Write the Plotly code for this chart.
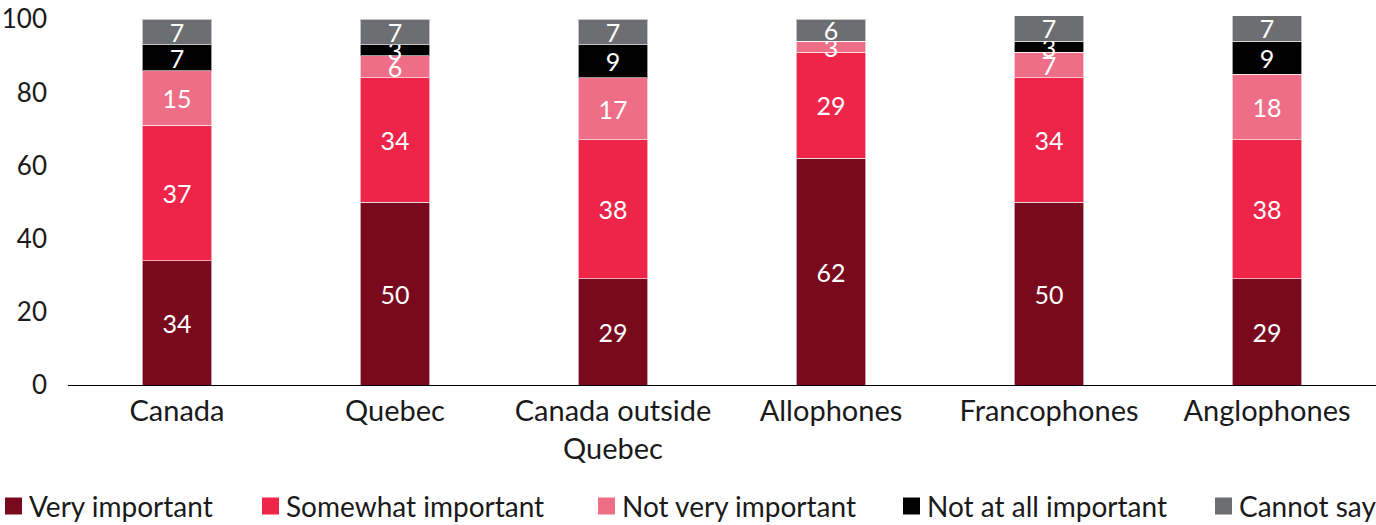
import plotly.graph_objects as go

categories = ["Canada", "Quebec", "Canada outside<br>Quebec", "Allophones", "Francophones", "Anglophones"]

very_important = [34, 50, 29, 62, 50, 29]
somewhat_important = [37, 34, 38, 29, 34, 38]
not_very_important = [15, 6, 17, 3, 7, 18]
not_at_all_important = [7, 3, 9, 0, 3, 9]
cannot_say = [7, 7, 7, 6, 7, 7]

series_names = ["Very important", "Somewhat important", "Not very important",
                "Not at all important", "Cannot say"]
series_values = [very_important, somewhat_important, not_very_important,
                 not_at_all_important, cannot_say]
series_colors = ["#790A1E", "#EE2549", "#EF6E87", "#000000", "#6D6E71"]

FONT = "Lato"
W, H = 1376, 525
M_L, M_R, M_T, M_B = 68, 0, 12, 140

fig = go.Figure()
for name, vals, color in zip(series_names, series_values, series_colors):
    fig.add_trace(go.Bar(
        x=categories,
        y=vals,
        name=name,
        showlegend=False,
        marker=dict(color=color, line=dict(color="rgba(255,255,255,0.6)", width=1)),
        text=[str(v) if v > 0 else "" for v in vals],
        textposition="inside",
        insidetextanchor="middle",
        textangle=0,
        textfont=dict(color="white", size=25, family=FONT),
        hoverinfo="x+y+name",
    ))

# Single-row legend along the bottom edge (swatch + label per series)
plot_w = W - M_L - M_R
plot_h = H - M_T - M_B


def px_to_paper_x(px):
    return (px - M_L) / plot_w


def px_to_paper_y(py):
    return (H - M_B - py) / plot_h


legend_left = [5, 262, 598, 903, 1215]   # swatch left edge per entry, px
swatch = 17
legend_mid = 506

shapes = []
annotations = []
for left, name, color in zip(legend_left, series_names, series_colors):
    shapes.append(dict(
        type="rect", xref="paper", yref="paper",
        x0=px_to_paper_x(left), x1=px_to_paper_x(left + swatch),
        y0=px_to_paper_y(legend_mid + swatch / 2), y1=px_to_paper_y(legend_mid - swatch / 2),
        fillcolor=color, line=dict(width=0),
    ))
    annotations.append(dict(
        text=name, xref="paper", yref="paper",
        x=px_to_paper_x(left + swatch + 5), y=px_to_paper_y(legend_mid),
        xanchor="left", yanchor="middle", showarrow=False,
        font=dict(size=28, family=FONT, color="#1a1a1a"),
    ))

fig.update_layout(
    barmode="stack",
    bargap=0.68,
    width=W,
    height=H,
    margin=dict(l=M_L, r=M_R, t=M_T, b=M_B),
    plot_bgcolor="white",
    paper_bgcolor="white",
    font=dict(family=FONT, size=27, color="#1a1a1a"),
    uniformtext=dict(minsize=25, mode="show"),
    showlegend=False,
    shapes=shapes,
    annotations=annotations,
    xaxis=dict(
        showline=True,
        linecolor="black",
        linewidth=1.2,
        showgrid=False,
        ticks="",
        automargin=False,
        tickfont=dict(size=29, family=FONT),
    ),
    yaxis=dict(
        range=[0, 102],
        tickvals=[0, 20, 40, 60, 80, 100],
        showgrid=False,
        showline=False,
        zeroline=False,
        ticks="",
        automargin=False,
        ticklabelstandoff=20,
        tickfont=dict(size=26, family=FONT),
    ),
)

fig.write_html("out.html")
